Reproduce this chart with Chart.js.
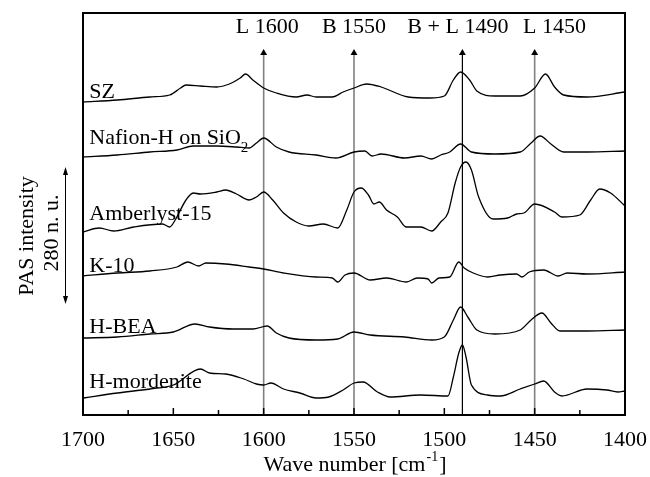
<!DOCTYPE html>
<html>
<head>
<meta charset="utf-8">
<script src="https://cdn.jsdelivr.net/npm/chart.js@4"></script>
<style>
  html, body { margin: 0; padding: 0; background: #fff; }
</style>
</head>
<body>
<canvas id="canva" width="650" height="477"></canvas>
<script>
// wave numbers [cm-1] and PAS intensity (arbitrary, stacked)
var szWave = [1700,1681,1663,1652,1646,1643,1635,1626,1619,1613,1610,1606,1600,1593,1582,1576,1571,1562,1556,1550,1543,1535,1520,1508,1500,1495,1491,1486,1482,1472,1458,1450,1444,1439,1434,1421,1400];
var szInt  = [313,315,318,320,327,330,329,328,331,337,341,335,327,322,318,320,318,318,323,327,331,328,318,317,319,335,343,335,324,319,319,327,341,328,320,318,323];

var nafionWave = [1700,1681,1663,1648,1639,1626,1615,1608,1604,1600,1593,1586,1571,1560,1550,1544,1540,1535,1522,1513,1507,1502,1497,1491,1485,1472,1458,1452,1447,1441,1434,1421,1400];
var nafionInt  = [258,260,263,265,269,269,268,267,272,277,268,263,260,257,263,264,259,261,257,259,256,260,263,271,263,261,263,272,279,271,263,263,264];

var amberWave = [1700,1691,1683,1672,1656,1652,1649,1643,1639,1635,1626,1621,1615,1608,1604,1600,1595,1589,1582,1575,1567,1559,1554,1550,1546,1542,1539,1536,1532,1526,1521,1513,1507,1502,1498,1494,1491,1488,1485,1481,1473,1465,1460,1456,1450,1439,1435,1425,1419,1414,1408,1400];
var amberInt  = [183,187,184,188,191,188,195,215,222,221,223,225,221,215,218,223,215,202,193,189,191,187,205,223,227,220,211,213,205,198,188,188,184,193,202,232,248,253,245,218,196,197,201,202,211,203,198,200,215,226,222,209];

var k10Wave = [1700,1681,1663,1648,1642,1636,1632,1621,1608,1600,1589,1571,1562,1559,1555,1550,1541,1532,1521,1515,1509,1507,1503,1497,1492,1489,1484,1476,1469,1460,1457,1453,1445,1437,1432,1421,1400];
var k10Int  = [139,142,144,148,153,149,152,151,148,146,142,138,137,133,140,142,135,137,133,137,136,132,137,138,153,147,142,138,140,141,138,143,145,139,142,141,143];

var beaWave = [1700,1681,1663,1650,1638,1630,1617,1606,1598,1593,1586,1571,1559,1550,1541,1522,1507,1500,1495,1491,1487,1482,1472,1458,1452,1446,1441,1436,1421,1400];
var beaInt  = [77,78,81,83,91,88,86,86,89,82,77,75,76,83,80,78,75,78,95,108,98,85,81,85,95,102,92,84,84,85];

var mordWave = [1700,1681,1663,1650,1635,1630,1621,1611,1604,1600,1596,1589,1580,1571,1564,1556,1550,1545,1537,1530,1513,1498,1495,1492,1490,1488,1485,1476,1469,1458,1450,1445,1439,1435,1421,1410,1404,1400];
var mordInt  = [17,22,26,30,46,42,41,36,31,30,32,26,22,17,18,25,32,33,23,18,20,19,38,62,70,58,30,20,19,26,31,34,23,19,26,25,23,24];

var sampleNames = ["SZ", "Nafion-H on SiO", "Amberlyst-15", "K-10", "H-BEA", "H-mordenite"];
var bandWave = [1600, 1550, 1490, 1450];
var bandNames = ["L 1600", "B 1550", "B + L 1490", "L 1450"];
var xTicks = [1700, 1650, 1600, 1550, 1500, 1450, 1400];

var waves = [szWave, nafionWave, amberWave, k10Wave, beaWave, mordWave];
var ints = [szInt, nafionInt, amberInt, k10Int, beaInt, mordInt];
var serif = "'Liberation Serif', 'Times New Roman', serif";

var datasets = [];
for (let s = 0; s < waves.length; s++) {
    datasets.push({
        label: sampleNames[s],
        data: waves[s].map(function (w, i) { return { x: w, y: ints[s][i] }; }),
        borderColor: "#000",
        borderWidth: 1.3,
        pointRadius: 0,
        cubicInterpolationMode: "monotone",
        fill: false
    });
}
// band marker lines with arrow tips
for (let b = 0; b < bandWave.length; b++) {
    datasets.push({
        label: bandNames[b],
        data: [{ x: bandWave[b], y: 0 }, { x: bandWave[b], y: 362 }],
        borderColor: bandWave[b] == 1490 ? "#000" : "#808080",
        borderWidth: bandWave[b] == 1490 ? 1.2 : 1.6,
        pointRadius: [0, 4],
        pointStyle: "triangle",
        pointBackgroundColor: "#000",
        pointBorderWidth: 0,
        fill: false
    });
}

// frame, inward ticks and all the texts
const decor = {
    id: "decor",
    afterDatasetsDraw(chart) {
        const ctx = chart.ctx, a = chart.chartArea;
        const x = chart.scales.x, y = chart.scales.y;
        ctx.save();
        ctx.strokeStyle = "#000";
        ctx.lineWidth = 2;
        ctx.strokeRect(a.left, a.top, a.right - a.left, a.bottom - a.top);
        ctx.lineWidth = 1.5;
        for (let w = 1400; w <= 1700; w += 25) {
            const px = x.getPixelForValue(w);
            const len = (w % 50 == 0) ? 7 : 5;
            ctx.beginPath();
            ctx.moveTo(px, a.bottom);
            ctx.lineTo(px, a.bottom - len);
            ctx.stroke();
        }

        ctx.fillStyle = "#000";
        ctx.font = "22px " + serif;
        ctx.textBaseline = "alphabetic";

        // sample names
        ctx.textAlign = "left";
        const nameY = [317, 271, 195, 143, 82, 27];
        for (let s = 0; s < sampleNames.length; s++) {
            ctx.fillText(sampleNames[s], x.getPixelForValue(1696.5), y.getPixelForValue(nameY[s]));
        }
        const nw = ctx.measureText(sampleNames[1]).width;
        ctx.font = "15px " + serif;
        ctx.fillText("2", x.getPixelForValue(1696.5) + nw, y.getPixelForValue(263));

        // band labels
        ctx.font = "22px " + serif;
        ctx.textAlign = "center";
        const bandLabelX = [1598, 1550, 1492.5, 1439];
        for (let b = 0; b < bandNames.length; b++) {
            ctx.fillText(bandNames[b], x.getPixelForValue(bandLabelX[b]), y.getPixelForValue(382));
        }

        // x title with superscript
        const t1 = "Wave number [cm", t2 = "-1", t3 = "]";
        ctx.font = "22px " + serif;
        const w1 = ctx.measureText(t1).width, w3 = ctx.measureText(t3).width;
        ctx.font = "14px " + serif;
        const w2 = ctx.measureText(t2).width;
        let tx = (a.left + a.right) / 2 - (w1 + w2 + w3) / 2;
        ctx.textAlign = "left";
        ctx.font = "22px " + serif;
        ctx.fillText(t1, tx, 471);
        ctx.font = "14px " + serif;
        ctx.fillText(t2, tx + w1 + 1, 461);
        ctx.font = "22px " + serif;
        ctx.fillText(t3, tx + w1 + w2 + 2, 471);

        // y label, scale bar
        ctx.save();
        ctx.translate(33, 236);
        ctx.rotate(-Math.PI / 2);
        ctx.textAlign = "center";
        ctx.fillText("PAS intensity", 0, 0);
        ctx.restore();
        ctx.save();
        ctx.translate(58, 233);
        ctx.rotate(-Math.PI / 2);
        ctx.textAlign = "center";
        ctx.fillText("280 n. u.", 0, 0);
        ctx.restore();

        ctx.lineWidth = 1;
        ctx.beginPath();
        ctx.moveTo(65.5, 172);
        ctx.lineTo(65.5, 299);
        ctx.stroke();
        ctx.beginPath();
        ctx.moveTo(65.5, 167); ctx.lineTo(63, 175); ctx.lineTo(68, 175); ctx.closePath();
        ctx.moveTo(65.5, 304); ctx.lineTo(63, 296); ctx.lineTo(68, 296); ctx.closePath();
        ctx.fill();
        ctx.restore();
    }
};

new Chart(document.getElementById("canva"), {
    type: "line",
    data: { datasets: datasets },
    plugins: [decor],
    options: {
        responsive: false,
        animation: false,
        layout: { padding: { left: 83, right: 25, top: 13, bottom: 12 } },
        plugins: { legend: { display: false }, tooltip: { enabled: false } },
        scales: {
            x: {
                type: "linear",
                reverse: true,
                min: 1400,
                max: 1700,
                afterBuildTicks: function (scale) {
                    scale.ticks = xTicks.map(function (v) { return { value: v }; });
                },
                grid: { display: false, drawTicks: false },
                border: { display: false },
                ticks: {
                    autoSkip: false,
                    maxRotation: 0,
                    padding: 3,
                    color: "#000",
                    font: { family: serif, size: 22, lineHeight: 2 },
                    callback: function (v) { return String(v); }
                }
            },
            y: { type: "linear", display: false, min: 0, max: 402 }
        }
    }
});
</script>
</body>
</html>
